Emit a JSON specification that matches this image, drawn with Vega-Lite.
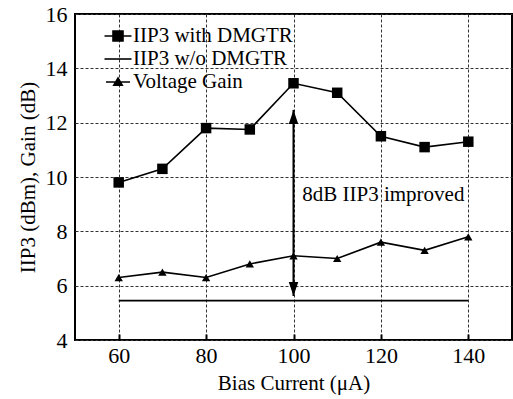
{
  "$schema": "https://vega.github.io/schema/vega-lite/v6.json",
  "autosize": "none",
  "width": 437,
  "height": 326,
  "padding": {"left": 75, "top": 14, "right": 1, "bottom": 59},
  "background": "white",
  "config": {
    "font": "Liberation Serif",
    "view": {"stroke": "black", "strokeWidth": 2},
    "axis": {
      "labelFont": "Liberation Serif",
      "titleFont": "Liberation Serif",
      "labelFontSize": 22,
      "titleFontSize": 21,
      "titleFontWeight": "normal",
      "labelColor": "black",
      "titleColor": "black"
    },
    "legend": {
      "labelFont": "Liberation Serif",
      "labelFontSize": 21,
      "labelColor": "black"
    }
  },
  "datasets": {
    "series": [
      {"current": 60, "value": 9.8, "series": "IIP3 with DMGTR"},
      {"current": 70, "value": 10.3, "series": "IIP3 with DMGTR"},
      {"current": 80, "value": 11.8, "series": "IIP3 with DMGTR"},
      {"current": 90, "value": 11.75, "series": "IIP3 with DMGTR"},
      {"current": 100, "value": 13.45, "series": "IIP3 with DMGTR"},
      {"current": 110, "value": 13.1, "series": "IIP3 with DMGTR"},
      {"current": 120, "value": 11.5, "series": "IIP3 with DMGTR"},
      {"current": 130, "value": 11.1, "series": "IIP3 with DMGTR"},
      {"current": 140, "value": 11.3, "series": "IIP3 with DMGTR"},
      {"current": 60, "value": 5.45, "series": "IIP3 w/o DMGTR"},
      {"current": 140, "value": 5.45, "series": "IIP3 w/o DMGTR"},
      {"current": 60, "value": 6.3, "series": "Voltage Gain"},
      {"current": 70, "value": 6.5, "series": "Voltage Gain"},
      {"current": 80, "value": 6.3, "series": "Voltage Gain"},
      {"current": 90, "value": 6.8, "series": "Voltage Gain"},
      {"current": 100, "value": 7.1, "series": "Voltage Gain"},
      {"current": 110, "value": 7.0, "series": "Voltage Gain"},
      {"current": 120, "value": 7.6, "series": "Voltage Gain"},
      {"current": 130, "value": 7.3, "series": "Voltage Gain"},
      {"current": 140, "value": 7.8, "series": "Voltage Gain"}
    ],
    "arrow": [
      {"current": 100, "low": 5.62, "high": 12.47, "label": "8dB IIP3 improved", "labelX": 102, "labelY": 9.35}
    ]
  },
  "layer": [
    {
      "data": {"name": "series"},
      "mark": {"type": "line", "color": "black", "strokeWidth": 1.6},
      "encoding": {
        "x": {
          "field": "current", "type": "quantitative",
          "scale": {"domain": [50, 150], "nice": false, "zero": false},
          "axis": {"values": [60, 80, 100, 120, 140], "title": "Bias Current (μA)", "labelPadding": 11, "titlePadding": 6, "grid": true, "gridColor": "#333333", "gridDash": [3, 2], "gridWidth": 1, "domain": false, "ticks": true, "tickSize": -6, "tickWidth": 2, "tickColor": "black"}
        },
        "y": {
          "field": "value", "type": "quantitative",
          "scale": {"domain": [4, 16], "nice": false, "zero": false},
          "axis": {"values": [4, 6, 8, 10, 12, 14, 16], "title": "IIP3 (dBm), Gain (dB)", "labelPadding": 8, "titlePadding": 7, "grid": true, "gridColor": "#333333", "gridDash": [3, 2], "gridWidth": 1, "domain": false, "ticks": true, "tickSize": 0}
        },
        "detail": {"field": "series"}
      }
    },
    {
      "data": {"name": "series"},
      "transform": [{"filter": "datum.series === 'IIP3 with DMGTR'"}],
      "mark": {"type": "point", "shape": "square", "filled": true, "color": "black", "size": 110, "opacity": 1},
      "encoding": {"x": {"field": "current", "type": "quantitative", "scale": {"domain": [50, 150], "nice": false, "zero": false}}, "y": {"field": "value", "type": "quantitative", "scale": {"domain": [4, 16], "nice": false, "zero": false}}}
    },
    {
      "data": {"name": "series"},
      "transform": [{"filter": "datum.series === 'Voltage Gain'"}],
      "mark": {"type": "point", "shape": "triangle-up", "filled": true, "color": "black", "size": 70, "opacity": 1},
      "encoding": {"x": {"field": "current", "type": "quantitative", "scale": {"domain": [50, 150], "nice": false, "zero": false}}, "y": {"field": "value", "type": "quantitative", "scale": {"domain": [4, 16], "nice": false, "zero": false}}}
    },
    {
      "data": {"name": "series"},
      "mark": {"type": "point", "filled": false, "color": "black", "opacity": 0},
      "encoding": {
        "x": {"field": "current", "type": "quantitative", "scale": {"domain": [50, 150], "nice": false, "zero": false}},
        "y": {"field": "value", "type": "quantitative", "scale": {"domain": [4, 16], "nice": false, "zero": false}},
        "shape": {
          "field": "series", "type": "nominal",
          "scale": {
            "domain": ["IIP3 with DMGTR", "IIP3 w/o DMGTR", "Voltage Gain"],
            "range": [
              "M-1.35,0L1.35,0M-0.5,-0.5L0.5,-0.5L0.5,0.5L-0.5,0.5ZM-0.5,-0.4L0.5,-0.4M-0.5,-0.3L0.5,-0.3M-0.5,-0.2L0.5,-0.2M-0.5,-0.1L0.5,-0.1M-0.5,0.1L0.5,0.1M-0.5,0.2L0.5,0.2M-0.5,0.3L0.5,0.3M-0.5,0.4L0.5,0.4",
              "M-1.35,0L1.35,0",
              "M-1.2,0L1.2,0M0,-0.4L0.42,0.32L-0.42,0.32ZM-0.09,-0.25L0.09,-0.25M-0.15,-0.15L0.15,-0.15M-0.2,-0.05L0.2,-0.05M-0.26,0.05L0.26,0.05M-0.32,0.15L0.32,0.15M-0.38,0.25L0.38,0.25"
            ]
          },
          "legend": {
            "title": null,
            "orient": "none",
            "legendX": 32,
            "legendY": 11,
            "symbolSize": 400,
            "labelOffset": 4,
            "rowPadding": 2,
            "symbolStrokeColor": "black",
            "symbolStrokeWidth": 1.6,
            "symbolOpacity": 1
          }
        }
      }
    },
    {
      "data": {"name": "arrow"},
      "mark": {"type": "rule", "color": "black", "strokeWidth": 2},
      "encoding": {"x": {"field": "current", "type": "quantitative", "scale": {"domain": [50, 150], "nice": false, "zero": false}}, "y": {"field": "low", "type": "quantitative", "scale": {"domain": [4, 16], "nice": false, "zero": false}}, "y2": {"field": "high"}}
    },
    {
      "data": {"name": "arrow"},
      "mark": {"type": "point", "filled": true, "color": "black", "opacity": 1, "size": 100, "shape": "M0,0L0.95,2.8L-0.95,2.8Z"},
      "encoding": {"x": {"field": "current", "type": "quantitative", "scale": {"domain": [50, 150], "nice": false, "zero": false}}, "y": {"field": "high", "type": "quantitative", "scale": {"domain": [4, 16], "nice": false, "zero": false}}}
    },
    {
      "data": {"name": "arrow"},
      "mark": {"type": "point", "filled": true, "color": "black", "opacity": 1, "size": 100, "shape": "M0,0L0.95,-2.8L-0.95,-2.8Z"},
      "encoding": {"x": {"field": "current", "type": "quantitative", "scale": {"domain": [50, 150], "nice": false, "zero": false}}, "y": {"field": "low", "type": "quantitative", "scale": {"domain": [4, 16], "nice": false, "zero": false}}}
    },
    {
      "data": {"name": "arrow"},
      "mark": {"type": "text", "align": "left", "baseline": "middle", "fontSize": 21, "font": "Liberation Serif", "color": "black"},
      "encoding": {
        "x": {"field": "labelX", "type": "quantitative", "scale": {"domain": [50, 150], "nice": false, "zero": false}},
        "y": {"field": "labelY", "type": "quantitative", "scale": {"domain": [4, 16], "nice": false, "zero": false}},
        "text": {"field": "label"}
      }
    }
  ]
}
